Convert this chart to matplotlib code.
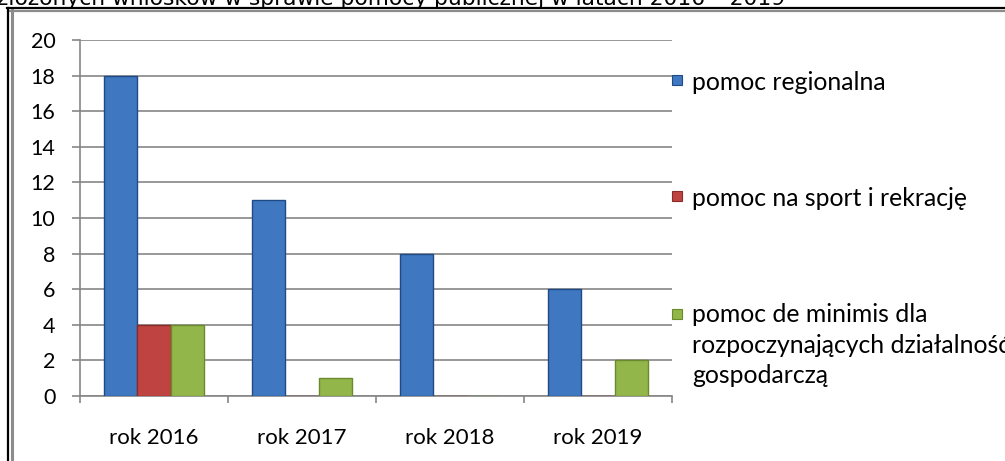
import numpy as np
import matplotlib
matplotlib.use("Agg")
import matplotlib.pyplot as plt
from matplotlib.patches import Rectangle
from matplotlib.lines import Line2D

# ------------------------------------------------------------
# data
# ------------------------------------------------------------
years = ["rok 2016", "rok 2017", "rok 2018", "rok 2019"]
regionalna = [18, 11, 8, 6]
sport = [4, 0, 0, 0]
de_minimis = [4, 1, 0, 2]

series_labels = ["pomoc regionalna",
                 "pomoc na sport i rekrację",
                 "pomoc de minimis dla\nrozpoczynających działalność\ngospodarczą"]
title_txt = "złożonych wniosków w sprawie pomocy publicznej w latach 2016 – 2019"

face = ["#3f77c0", "#bf4441", "#93b64a"]
edge = ["#1f4a85", "#8a2c2a", "#6a8a2c"]

plt.rcParams['font.family'] = ['Lato', 'DejaVu Sans']

W, H = 1005, 461
fig = plt.figure(figsize=(W / 100, H / 100), dpi=100)
fig.patch.set_facecolor("white")

# axes box in pixels: left 80, right 672, top 40, bottom 396
ax = fig.add_axes([80 / W, 1 - 396 / H, (672 - 80) / W, (396 - 40) / H])

x = np.arange(len(years))
bw = 0.225
for k, vals in enumerate([regionalna, sport, de_minimis]):
    ax.bar(x + (k - 1) * bw, vals, width=bw, color=face[k],
           edgecolor=edge[k], linewidth=1.0, zorder=3)

ax.set_xlim(-0.5, len(years) - 0.5)
ax.set_ylim(0, 20)
ax.set_yticks(np.arange(0, 21, 2))
ax.grid(axis="y", color="#868686", linewidth=1.2, zorder=0)

for s in ["top", "right"]:
    ax.spines[s].set_visible(False)
for s in ["left", "bottom"]:
    ax.spines[s].set_color("#868686")
    ax.spines[s].set_linewidth(1.2)

ax.tick_params(axis="y", length=5.8, width=1.2, color="#868686",
               pad=12, labelsize=15.5, labelcolor="black")
ax.set_xticks(x)
ax.set_xticklabels(years)
ax.set_xticks(np.arange(-0.5, len(years)), minor=True)
ax.tick_params(axis="x", which="major", length=0, pad=23, labelsize=16)
ax.tick_params(axis="x", which="minor", length=5, width=1.2, color="#868686")

# legend (drawn manually to keep the Excel-like placement)
entries_y = [82, 198, 345]
marker_y = [80, 196, 314]
for k in range(3):
    fig.patches.append(Rectangle((672 / W, 1 - (marker_y[k] + 5) / H), 10 / W, 10 / H,
                                 transform=fig.transFigure, facecolor=face[k],
                                 edgecolor=edge[k], linewidth=0.8))
    fig.text(692 / W, 1 - entries_y[k] / H, series_labels[k], fontsize=17.8,
             va="center", ha="left", linespacing=1.38)

# cut-off title and frame of the surrounding document
fig.text(-3 / W, 1 - 5 / H, title_txt, family="DejaVu Sans", fontsize=15.7,
         va="baseline", ha="left")
fig.add_artist(Line2D([7 / W, 1], [1 - 8.5 / H, 1 - 8.5 / H], color="black",
                      linewidth=1.6, transform=fig.transFigure))
fig.add_artist(Line2D([10 / W, 1], [1 - 11 / H, 1 - 11 / H], color="#8c8c8c",
                      linewidth=1.6, transform=fig.transFigure))
fig.add_artist(Line2D([8 / W, 8 / W], [0, 1 - 8 / H], color="black",
                      linewidth=1.6, transform=fig.transFigure))
fig.add_artist(Line2D([11.5 / W, 11.5 / W], [0, 1 - 10 / H], color="#8c8c8c",
                      linewidth=2.2, transform=fig.transFigure))

fig.savefig("out.png", dpi=100, facecolor="white")
